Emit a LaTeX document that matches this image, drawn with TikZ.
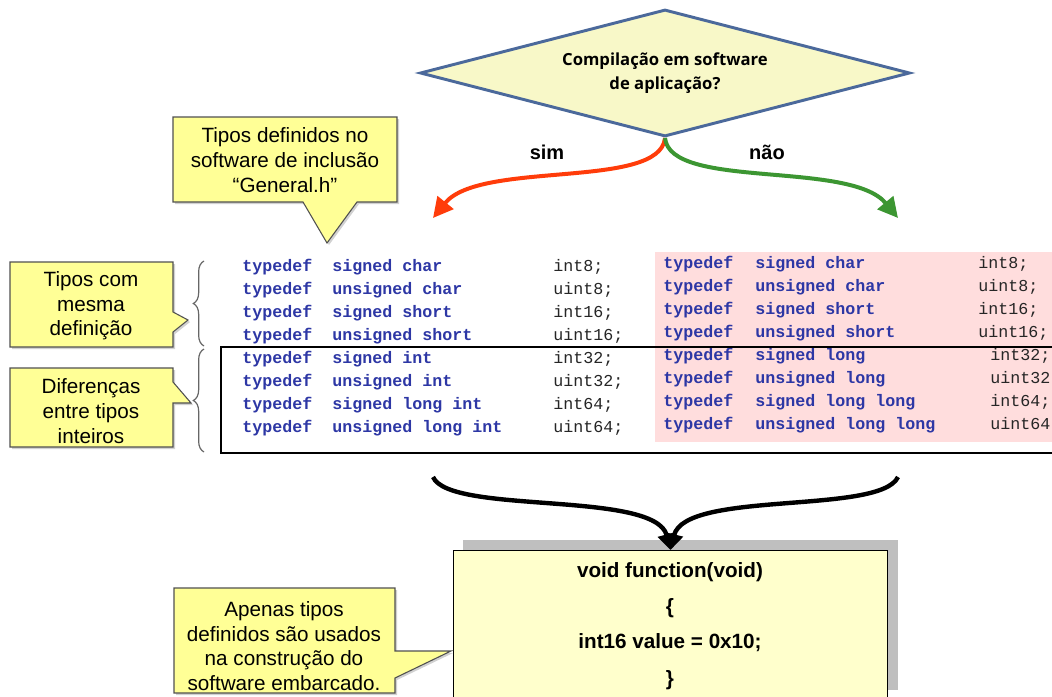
\documentclass[tikz,border=0pt]{standalone}
\usepackage{fontspec}
\setmainfont{Liberation Sans}
\newfontfamily\qfont{Open Sans}
\newfontfamily\codefont{Liberation Mono}
\usetikzlibrary{shapes.geometric,arrows.meta,decorations.pathreplacing}

\definecolor{diafill}{RGB}{248,248,200}
\definecolor{diaedge}{RGB}{75,105,155}
\definecolor{callfill}{RGB}{255,255,150}
\definecolor{calledge}{RGB}{80,80,80}
\definecolor{boxfill}{RGB}{255,255,204}
\definecolor{pinkbg}{RGB}{255,221,221}
\definecolor{codeblue}{RGB}{45,55,165}
\definecolor{simred}{RGB}{255,60,10}
\definecolor{naogreen}{RGB}{60,150,50}

\begin{document}
\begin{tikzpicture}[x=0.75pt,y=-0.75pt,
  callout/.style={fill=callfill,draw=calledge,line width=0.8pt,line join=miter},
  callshadow/.style={fill=black!18,draw=none},
  calltext/.style={align=center,inner sep=0pt,font=\fontsize{15.5}{18.5}\selectfont},
  kw/.style={anchor=mid west,inner sep=0pt,text=codeblue,font=\codefont\bfseries\fontsize{12.5}{14}\selectfont},
  tn/.style={anchor=mid west,inner sep=0pt,text=black!85,font=\codefont\fontsize{12.5}{14}\selectfont},
  fnline/.style={inner sep=0pt,font=\bfseries\fontsize{15.5}{18}\selectfont},
  flow/.style={line width=3pt,-{Triangle[length=15pt,width=15pt]}},
  merge/.style={line width=3.3pt,-{Triangle[length=12pt,width=13pt]}},
  bracket/.style={draw=black!60,line width=0.9pt,decorate,decoration={brace,amplitude=8pt}}
]
\clip (0,0) rectangle (1052,696);
\fill[white] (0,0) rectangle (1052,696);

% decision diamond
\node[diamond,draw=diaedge,fill=diafill,line width=2.2pt,inner sep=0pt,
      aspect=3.86,minimum width=367.5pt,minimum height=95.25pt,
      align=center,font=\qfont\bfseries\fontsize{12.5}{18}\selectfont] (q) at (665,73)
      {Compilação em software\\de aplicação?};

\node[font=\bfseries\fontsize{15}{18}\selectfont] (sim) at (547,152) {sim};
\node[font=\bfseries\fontsize{15}{18}\selectfont] (nao) at (767,152) {não};

\coordinate (simEnd) at (433,218);
\coordinate (naoEnd) at (898,218);
\draw[flow,simred] (q.south) .. controls (660,190) and (480,160) .. (simEnd);
\draw[flow,naogreen] (q.south) .. controls (670,190) and (850,160) .. (naoEnd);

% callout: header file
\fill[callshadow,shift={(2,2)}] (173,117) -- (397,117) -- (397,202) -- (357,202) -- (327,243) -- (303,202) -- (173,202) -- cycle;
\draw[callout] (173,117) -- (397,117) -- (397,202) -- (357,202) -- (327,243) -- (303,202) -- (173,202) -- cycle;
\node[calltext] (c1) at (285,160) {Tipos definidos no\\software de inclusão\\“General.h”};

% callout: same definition
\fill[callshadow,shift={(2,2)}] (10,262) -- (173,262) -- (173,312) -- (188,320) -- (173,332) -- (173,347) -- (10,347) -- cycle;
\draw[callout] (10,262) -- (173,262) -- (173,312) -- (188,320) -- (173,332) -- (173,347) -- (10,347) -- cycle;
\node[calltext] (c2) at (91,306) {Tipos com\\mesma\\definição};

% callout: integer differences
\fill[callshadow,shift={(2,2)}] (10,368) -- (173,368) -- (173,382) -- (191,403) -- (173,403) -- (173,447) -- (10,447) -- cycle;
\draw[callout] (10,368) -- (173,368) -- (173,382) -- (191,403) -- (173,403) -- (173,447) -- (10,447) -- cycle;
\node[calltext] (c3) at (91,411) {Diferenças\\entre tipos\\inteiros};

% braces
\draw[bracket] (204,346) -- (204,261);
\draw[bracket] (204,452) -- (204,349);

% right code block background
\fill[pinkbg] (655,252) rectangle (1060,442);

% left column of typedefs
\foreach \t/\n [count=\i] in {signed char/{int8;},unsigned char/{uint8;},signed short/{int16;},unsigned short/{uint16;},signed int/{int32;},unsigned int/{uint32;},signed long int/{int64;},unsigned long int/{uint64;}}{
  \node[kw] (Lk\i) at (242,{268+23*(\i-1)}) {typedef};
  \node[kw] (Lt\i) at (332,{268+23*(\i-1)}) {\t};
  \node[tn] (Ln\i) at (553,{268+23*(\i-1)}) {\n};
}

% right column of typedefs
\foreach \t/\n/\x [count=\i] in {signed char/{int8;}/978,unsigned char/{uint8;}/978,signed short/{int16;}/978,unsigned short/{uint16;}/978,signed long/{int32;}/990,unsigned long/{uint32}/990,signed long long/{int64;}/990,unsigned long long/{uint64}/990}{
  \node[kw] (Rk\i) at (663,{265+23*(\i-1)}) {typedef};
  \node[kw] (Rt\i) at (755,{265+23*(\i-1)}) {\t};
  \node[tn] (Rn\i) at (\x,{265+23*(\i-1)}) {\n};
}

% frame around the differing types
\draw[black,line width=0.8pt] (221,347) rectangle (1060,453);

% function box
\fill[black!25] (463,540) rectangle (898,690);
\node[draw=black,fill=boxfill,line width=0.8pt,anchor=north west,inner sep=0pt,
      minimum width=325.5pt,minimum height=120pt] (fn) at (453,550) {};
\node[fnline] (f1) at (670,572) {void function(void)};
\node[fnline] (f2) at (670,608) {\{};
\node[fnline] (f3) at (670,643) {int16 value = 0x10;};
\node[fnline] (f4) at (670,680) {\}};

% merging arrows
\coordinate (mL) at (433,477);
\coordinate (mR) at (898,477);
\draw[merge] (mL) .. controls (450,515) and (655,490) .. (fn.north);
\draw[merge] (mR) .. controls (880,515) and (685,490) .. (fn.north);

% callout: embedded software
\fill[callshadow,shift={(2,2)}] (174,588) -- (395,588) -- (395,651) -- (451,651) -- (395,678) -- (395,693) -- (174,693) -- cycle;
\draw[callout] (174,588) -- (395,588) -- (395,651) -- (451,651) -- (395,678) -- (395,693) -- (174,693) -- cycle;
\node[calltext] (c4) at (284,646) {Apenas tipos\\definidos são usados\\na construção do\\software embarcado.};
\end{tikzpicture}
\end{document}
